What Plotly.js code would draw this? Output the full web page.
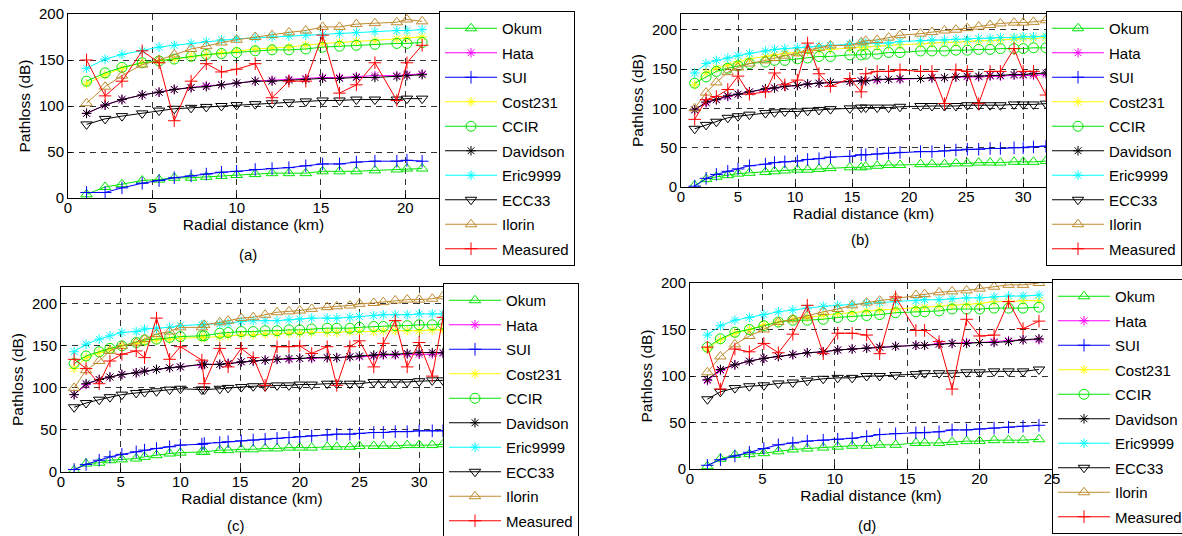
<!DOCTYPE html>
<html>
<head>
<meta charset="utf-8">
<script src="https://cdn.plot.ly/plotly-3.0.1.min.js"></script>
<style>html,body{margin:0;padding:0;background:#fff}#chart{width:1182px;height:536px}</style>
</head>
<body>
<div id="chart"></div>
<script>
// ---------- data ----------
const seriesNames = ["Okum","Hata","SUI","Cost231","CCIR","Davidson","Eric9999","ECC33","Ilorin","Measured"];
const xTitle = "Radial distance (km)";
const yTitle = "Pathloss (dB)";
const captions = ["(a)","(b)","(c)","(d)"];

// (a)
const xA = [1.1,2.2,3.2,4.4,5.4,6.3,7.3,8.2,9.1,10.0,11.1,12.1,13.1,14.1,15.1,16.1,17.1,18.2,19.5,20.1,21.0];
const okumA = [4,12,15,19,20,22,22,23,24,25,26,27,27,27,29,29,29,30,31,32,32];
const hataA = [92,101,107,112,115,118,120,122,123,125,127,128,129,130,131,131,132,133,133,134,135];
const suiA = [6,6,11,16,19,22,24,26,28,29,31,32,33,35,37,37,39,40,40,41,40];
const costA = [124,134,141,147,149,151,154,156,158,160,162,163,164,166,168,169,170,171,173,174,175];
const ccirA = [127,136,142,147,149,151,154,156,157,158,160,161,161,162,164,165,166,167,168,168,169];
const davA = [92,101,107,112,115,118,120,121,123,125,127,127,128,129,130,130,131,131,132,133,134];
const ericA = [141,151,156,160,164,166,168,170,172,173,174,175,176,177,178,179,180,181,182,182,183];
const eccA = [80,86,89,92,95,97,98,99,100,101,102,103,104,105,106,106,107,107,107,108,108];
const ilorinA = [103,121,133,145,150,156,162,165,169,172,175,177,180,182,186,186,189,190,191,194,192];
const measA = [150,111,127,160,147,84,127,146,137,140,146,109,127,127,177,114,123,147,106,147,166];

// (b)
const xB = [1.2,2.2,3.1,4.1,5.0,6.0,7.4,8.2,9.1,10.2,11.1,12.1,13.1,14.8,15.8,16.2,17.2,18.2,19.2,21.0,22.0,23.1,24.1,25.1,26.1,27.1,28.0,29.2,30.0,30.9,32.0];
const okumB = [2,10,13,15,17,18,19,20,21,22,22,23,24,25,25,26,27,28,28,29,29,29,30,30,31,31,31,32,32,32,33];
const hataB = [98,107,111,115,118,121,124,126,128,129,131,132,133,134,135,135,136,137,137,138,139,139,140,140,140,141,141,142,142,142,143];
const suiB = [1,11,16,20,23,27,29,31,32,33,35,36,38,39,41,41,42,43,44,45,45,46,47,48,48,49,49,50,50,51,52];
const costB = [130,145,151,155,159,163,166,168,170,171,173,174,175,177,178,178,179,180,181,182,183,184,184,185,186,186,187,188,189,189,190];
const ccirB = [132,140,147,151,154,157,159,161,161,163,164,166,166,168,168,169,169,171,171,173,173,173,174,174,175,175,176,176,176,177,177];
const davB = [98,108,111,116,118,121,125,126,128,129,131,132,133,134,135,135,137,137,138,138,139,139,140,141,141,142,142,143,143,144,145];
const ericB = [145,157,161,164,167,170,173,175,176,177,178,179,180,182,183,183,183,183,185,186,187,187,188,188,189,189,190,190,191,191,192];
const eccB = [74,79,83,88,90,92,94,95,96,96,97,98,99,100,101,101,101,101,102,103,103,103,103,104,104,104,104,105,105,105,106];
const ilorinB = [100,120,133,146,152,157,161,164,167,170,174,177,180,180,184,186,187,190,193,195,197,199,200,202,204,206,208,209,209,210,212];
const measB = [86,111,115,124,141,118,121,145,130,136,183,144,128,138,121,144,147,147,149,147,147,106,149,147,106,147,147,176,147,147,117];

// (c)
const xC = [1.1,2.1,3.2,4.1,5.1,6.3,7.0,8.0,9.1,10.0,11.8,12.0,13.3,14.0,15.1,16.1,17.1,18.1,19.1,20.0,21.0,22.3,23.1,24.2,25.0,26.2,27.0,28.0,29.0,30.0,31.1,32.0];
const okumC = [2,10,11,14,15,16,18,20,22,23,24,24,26,26,27,27,28,28,29,29,29,30,30,30,31,31,31,31,32,32,32,33];
const hataC = [92,104,110,113,116,118,120,122,124,125,127,128,128,129,131,132,133,134,134,135,135,136,136,137,137,138,139,139,140,140,140,141];
const suiC = [3,9,14,18,21,24,26,28,30,32,33,34,35,36,37,38,39,40,41,42,43,44,45,45,46,47,47,48,48,49,49,49];
const costC = [123,136,142,146,150,153,155,157,158,159,160,160,161,162,163,163,164,164,165,165,166,166,166,167,167,167,168,168,168,168,169,169];
const ccirC = [129,138,143,147,150,154,157,158,160,161,162,162,165,166,167,167,168,168,169,169,170,171,171,171,172,173,173,174,174,175,175,176];
const davC = [92,105,110,113,116,118,120,122,124,125,128,128,128,129,131,132,133,134,135,135,136,136,136,137,138,139,140,140,141,142,142,142];
const ericC = [143,152,158,162,166,167,170,171,172,174,175,175,176,177,179,180,180,180,181,182,183,183,183,184,185,186,187,187,187,188,188,188];
const eccC = [77,82,86,89,92,94,95,96,98,99,98,98,99,100,101,102,102,103,103,104,104,105,105,105,105,107,107,107,107,108,109,109];
const ilorinC = [100,121,132,144,150,154,158,164,167,172,172,175,178,180,183,184,187,190,191,192,194,196,197,198,200,201,202,204,205,205,206,209];
const measC = [134,123,105,132,140,144,136,183,134,149,133,105,147,125,147,136,103,149,149,150,141,149,103,149,156,125,153,180,125,154,114,184];

// (d)
const xD = [1.2,2.1,3.1,4.1,5.1,6.1,7.1,8.1,9.2,10.2,11.2,12.2,13.1,14.2,15.6,16.2,17.2,18.1,19.1,20.0,21.0,22.0,23.0,24.1];
const okumD = [3,11,15,16,17,19,21,22,23,24,25,25,26,26,28,28,28,29,30,30,31,31,31,32];
const hataD = [95,106,112,116,119,121,123,125,126,128,129,130,131,132,133,133,135,135,136,136,137,138,139,139];
const suiD = [4,10,14,18,22,26,28,30,31,32,33,35,37,38,39,39,40,42,42,43,44,45,46,47];
const costD = [129,139,146,150,155,158,161,163,165,167,168,170,171,172,173,174,175,176,177,178,180,180,181,181];
const ccirD = [131,140,147,150,154,158,160,160,161,163,164,165,166,168,169,169,170,172,172,172,173,173,173,174];
const davD = [96,107,112,116,119,121,123,125,126,128,129,130,131,132,133,133,134,135,135,136,136,137,139,140];
const ericD = [144,154,160,163,166,169,171,173,175,176,177,178,179,180,181,182,182,183,184,184,185,186,186,187];
const eccD = [75,83,87,89,90,92,93,95,97,98,98,100,100,101,102,103,103,103,104,104,105,105,105,107];
const ilorinD = [104,121,134,143,150,158,161,165,169,172,176,179,181,184,187,188,190,191,192,194,196,198,198,200];
const measD = [131,86,129,126,135,125,145,176,124,146,146,144,124,185,149,149,137,86,161,143,144,180,151,159];

// ---------- styles ----------
const FONT = "Liberation Sans, Arial, Helvetica, sans-serif";
const styles = {
  Okum:     {color:"#00e600", symbol:"triangle-up-open",   size:10},
  Hata:     {color:"#ff00ff", symbol:"asterisk-open",      size:8},
  SUI:      {color:"#0000ff", symbol:"cross-thin-open",    size:9},
  Cost231:  {color:"#ffff00", symbol:"asterisk-open",      size:8},
  CCIR:     {color:"#00e600", symbol:"circle-open",        size:10},
  Davidson: {color:"#000000", symbol:"asterisk-open",      size:8},
  Eric9999: {color:"#00ffff", symbol:"asterisk-open",      size:8},
  ECC33:    {color:"#000000", symbol:"triangle-down-open", size:10},
  Ilorin:   {color:"#bf8a2e", symbol:"triangle-up-open",   size:10},
  Measured: {color:"#ff0000", symbol:"cross-thin-open",    size:9}
};

const panels = [
  {x:xA, ys:[okumA,hataA,suiA,costA,ccirA,davA,ericA,eccA,ilorinA,measA], xa:"x",  ya:"y",  lg:"legend"},
  {x:xB, ys:[okumB,hataB,suiB,costB,ccirB,davB,ericB,eccB,ilorinB,measB], xa:"x2", ya:"y2", lg:"legend2"},
  {x:xC, ys:[okumC,hataC,suiC,costC,ccirC,davC,ericC,eccC,ilorinC,measC], xa:"x3", ya:"y3", lg:"legend3"},
  {x:xD, ys:[okumD,hataD,suiD,costD,ccirD,davD,ericD,eccD,ilorinD,measD], xa:"x4", ya:"y4", lg:"legend4"}
];

const traces = [];
panels.forEach((p, pi) => {
  seriesNames.forEach((nm, si) => {
    const st = styles[nm];
    traces.push({
      type:"scatter", mode:"lines+markers", name:nm,
      x:p.x, y:p.ys[si], xaxis:p.xa, yaxis:p.ya, legend:p.lg,
      legendgroup:"p"+pi+"_"+nm,
      line:{color:st.color, width:1},
      marker:{symbol:st.symbol, size:st.size, color:st.color, line:{color:st.color, width:1}}
    });
  });
});

const W = 1182, H = 536;
function px2x(v){return v/W;}
function px2y(v){return 1 - v/H;}

function xaxis(l, r, range, anchor){
  return {domain:[px2x(l), px2x(r)], range:range, anchor:anchor, dtick:5, tick0:0,
    showline:true, mirror:true, linecolor:"#000", linewidth:1,
    ticks:"inside", ticklen:4, tickcolor:"#000", ticklabelstandoff:-4,
    showgrid:true, gridcolor:"rgba(0,0,0,0.8)", griddash:"6px,5px", gridwidth:1,
    zeroline:false, automargin:false, fixedrange:true,
    tickfont:{family:FONT, size:15, color:"#000"},
    title:{text:xTitle, font:{family:FONT, size:15.5, color:"#000"}, standoff:0}};
}
function yaxis(t, b, range, anchor){
  return {domain:[px2y(b), px2y(t)], range:range, anchor:anchor, dtick:50, tick0:0,
    showline:true, mirror:true, linecolor:"#000", linewidth:1,
    ticks:"inside", ticklen:4, tickcolor:"#000",
    showgrid:true, gridcolor:"rgba(0,0,0,0.8)", griddash:"6px,5px", gridwidth:1,
    zeroline:false, automargin:false, fixedrange:true,
    tickfont:{family:FONT, size:15, color:"#000"},
    title:{text:yTitle, font:{family:FONT, size:15.5, color:"#000"}, standoff:4}};
}
function legendAt(l, t){
  return {x:px2x(l), y:px2y(t), xanchor:"left", yanchor:"top", xref:"paper", yref:"paper",
    bgcolor:"rgba(255,255,255,0)", bordercolor:"#000", borderwidth:1,
    font:{family:FONT, size:15, color:"#000"},
    traceorder:"grouped", tracegroupgap:2, itemwidth:52, itemclick:false, itemdoubleclick:false};
}
function caption(text, cx, cy){
  return {text:text, x:px2x(cx), y:px2y(cy), xref:"paper", yref:"paper",
    xanchor:"center", yanchor:"middle", showarrow:false,
    font:{family:FONT, size:15, color:"#000"}};
}

const layout = {
  width:W, height:H, margin:{l:0, r:0, t:0, b:0, autoexpand:false},
  paper_bgcolor:"#fff", plot_bgcolor:"#fff", showlegend:true,
  font:{family:FONT, color:"#000"},
  xaxis:  xaxis(68, 439, [0,22], "y"),
  yaxis:  yaxis(14, 198, [0,200], "x"),
  xaxis2: xaxis(681, 1046, [0,32], "y2"),
  yaxis2: yaxis(14, 187, [0,220], "x2"),
  xaxis3: xaxis(61, 443, [0,32], "y3"),
  yaxis3: yaxis(287, 472, [0,220], "x3"),
  xaxis4: xaxis(690, 1052, [0,25], "y4"),
  yaxis4: yaxis(283, 469, [0,200], "x4"),
  legend:  legendAt(439, 11),
  legend2: legendAt(1046, 11),
  legend3: legendAt(443, 283),
  legend4: legendAt(1052, 279),
  annotations:[
    caption(captions[0], 248, 254),
    caption(captions[1], 860, 240),
    caption(captions[2], 236, 525),
    caption(captions[3], 867, 525)
  ]
};

Plotly.newPlot("chart", traces, layout, {displayModeBar:false, staticPlot:true});
</script>
</body>
</html>
